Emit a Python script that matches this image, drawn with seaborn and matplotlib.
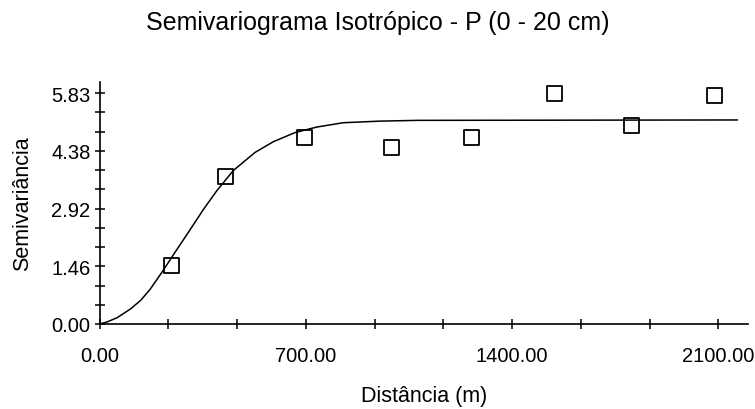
import numpy as np
import matplotlib
matplotlib.use("Agg")
import matplotlib.pyplot as plt
import seaborn as sns
from matplotlib.ticker import FixedLocator, NullFormatter

# Experimental semivariance at each lag
lag_distance = [243, 426, 695, 990, 1262, 1545, 1804, 2086]
semivariance = [1.47, 3.74, 4.72, 4.47, 4.72, 5.83, 5.01, 5.77]

# Fitted model (Gaussian-shaped) sampled along distance
model_distance = [0, 25, 60, 105, 140, 172, 212, 256, 307, 352, 398, 454,
                  528, 590, 663, 737, 827, 950, 1080, 2165]
model_semivariance = [0.00, 0.05, 0.16, 0.38, 0.60, 0.88, 1.31, 1.81, 2.38,
                      2.89, 3.37, 3.88, 4.34, 4.61, 4.84, 4.98, 5.09, 5.13,
                      5.15, 5.16]

x_tick_values = [0, 700, 1400, 2100]
x_tick_labels = ["0.00", "700.00", "1400.00", "2100.00"]
y_tick_values = [0.0, 1.459, 2.918, 4.376, 5.835]
y_tick_labels = ["0.00", "1.46", "2.92", "4.38", "5.83"]

title_text = "Semivariograma Isotrópico - P (0 - 20 cm)"
x_label = "Distância (m)"
y_label = "Semivariância"

sns.set_theme(style="white")
plt.rcParams["font.family"] = ["Liberation Sans", "DejaVu Sans"]
plt.rcParams["text.color"] = "black"
plt.rcParams["axes.labelcolor"] = "black"
plt.rcParams["xtick.color"] = "black"
plt.rcParams["ytick.color"] = "black"

fig = plt.figure(figsize=(7.55, 4.10), dpi=100)
fig.patch.set_facecolor("white")
ax = fig.add_axes([99.5 / 755, 1 - 325 / 410, 648.3 / 755, 242 / 410])
ax.set_facecolor("white")

sns.lineplot(x=model_distance, y=model_semivariance, color="black",
             linewidth=1.1, sort=False, estimator=None, ax=ax, zorder=2)
sns.scatterplot(x=lag_distance, y=semivariance, marker="s", s=117,
                facecolor="none", edgecolor="black", linewidth=1.3,
                ax=ax, zorder=3)

ax.set_xlim(0, 2200)
ax.set_ylim(0, 6.12)

# Labelled major ticks, with two unlabelled ticks between each pair
x_step = (x_tick_values[1] - x_tick_values[0]) / 3
y_step = (y_tick_values[1] - y_tick_values[0]) / 3
ax.xaxis.set_major_locator(FixedLocator(x_tick_values))
ax.set_xticklabels(x_tick_labels)
ax.xaxis.set_minor_locator(FixedLocator(
    [x_tick_values[0] + k * x_step for k in range(1, 9) if k % 3]))
ax.yaxis.set_major_locator(FixedLocator(y_tick_values))
ax.set_yticklabels(y_tick_labels)
ax.yaxis.set_minor_locator(FixedLocator(
    [y_tick_values[0] + k * y_step for k in range(1, 12) if k % 3]))
ax.xaxis.set_minor_formatter(NullFormatter())
ax.yaxis.set_minor_formatter(NullFormatter())

ax.tick_params(which="both", direction="inout", length=7, width=1.1,
               color="black", bottom=True, left=True)
ax.tick_params(axis="x", which="major", labelsize=14.5, pad=12)
ax.tick_params(axis="y", which="major", labelsize=14.5, pad=3)

for side in ["top", "right"]:
    ax.spines[side].set_visible(False)
for side in ["left", "bottom"]:
    ax.spines[side].set_color("black")
    ax.spines[side].set_linewidth(1.2)

ax.set_xlabel(x_label, fontsize=15.5, va="top")
ax.xaxis.set_label_coords(0.5, -0.252)
ax.set_ylabel(y_label, fontsize=15.5)
ax.yaxis.set_label_coords(-0.103, 0.5)

fig.text(0.5, 1 - 30 / 410, title_text, ha="center", va="baseline",
         fontsize=18)

fig.savefig("out.png", dpi=100, facecolor="white")
